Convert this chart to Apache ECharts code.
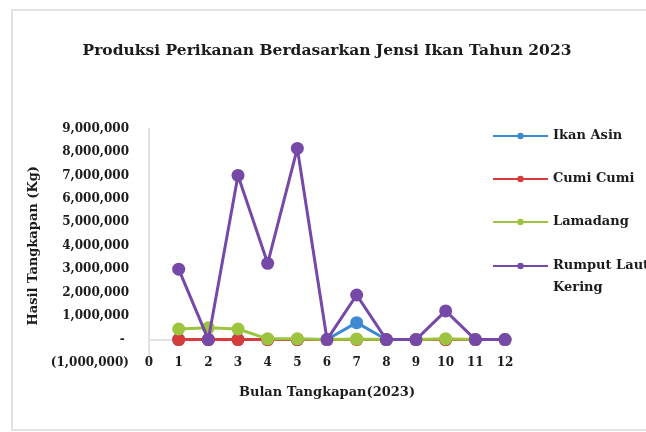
<!DOCTYPE html>
<html>
<head>
<meta charset="utf-8">
<script src="https://cdn.jsdelivr.net/npm/echarts@6/dist/echarts.min.js"></script>
<style>
  html, body { margin: 0; padding: 0; background: #fff; }
  #chart { width: 646px; height: 432px; }
</style>
</head>
<body>
<div id="chart"></div>
<script>
// data
var months = [1, 2, 3, 4, 5, 6, 7, 8, 9, 10, 11, 12];
var ikanAsin = [0, 0, 0, 0, 0, 0, 720000, 0, 0, 0, 0, 0];
var cumiCumi = [0, 0, 0, 0, 0, 0, 0, 0, 0, 0, 0, 0];
var lamadang = [450000, 500000, 450000, 30000, 30000, 0, 20000, 0, 0, 30000, 0, 0];
var rumputLaut = [3000000, 0, 7000000, 3250000, 8150000, 0, 1900000, 0, 0, 1220000, 0, 0];

var seriesNames = ["Ikan Asin", "Cumi Cumi", "Lamadang", "Rumput Laut Kering"];
var seriesValues = [ikanAsin, cumiCumi, lamadang, rumputLaut];
var colors = ["#3d8ad2", "#d63c3c", "#9dc43f", "#7648a8"];

var font = "DejaVu Serif";
var txt = "#1c1c1c";

var myChart = echarts.init(document.getElementById("chart"));

function fmt(v) {
  if (v === 0) return "- ";
  var s = Math.abs(v).toString().replace(/\B(?=(\d{3})+(?!\d))/g, ",");
  return v < 0 ? "(" + s + ")" : s;
}

var series = [];
for (var i = 0; i < seriesNames.length; i++) {
  var pts = [];
  for (var j = 0; j < months.length; j++) {
    pts.push([months[j], seriesValues[i][j]]);
  }
  var s = {
    name: seriesNames[i],
    type: "line",
    data: pts,
    symbol: "circle",
    symbolSize: 13,
    lineStyle: { width: 3, color: colors[i] },
    itemStyle: { color: colors[i] },
    z: 2 + i,
  };
  if (i === 0) {
    // zero line (Excel draws the horizontal axis here)
    s.markLine = {
      silent: true,
      symbol: "none",
      label: { show: false },
      lineStyle: { color: "#d9d9d9", width: 1.5, type: "solid" },
      data: [{ yAxis: 0 }],
      z: 1,
    };
  }
  series.push(s);
}

var legendText = { fontFamily: font, fontSize: 13, fontWeight: "bold", color: txt, lineHeight: 22 };

var option = {
  animation: false,
  color: colors,
  title: {
    text: "Produksi Perikanan Berdasarkan Jensi Ikan Tahun 2023",
    left: 322,
    textAlign: "center",
    top: 38,
    textStyle: { fontFamily: font, fontSize: 15.5, fontWeight: "bold", color: txt },
  },
  graphic: [
    {
      type: "rect",
      shape: { x: 12, y: 10, width: 700, height: 420 },
      style: { fill: "none", stroke: "#d9d9d9", lineWidth: 1.5 },
      silent: true,
    },
  ],
  legend: [
    {
      orient: "vertical",
      left: 487,
      top: 120,
      itemWidth: 55,
      itemHeight: 8,
      itemGap: 21,
      textStyle: legendText,
      data: ["Ikan Asin", "Cumi Cumi", "Lamadang"],
    },
    {
      // own legend so the icon sits on the first line, "Kering" below it
      orient: "vertical",
      left: 487,
      top: 228,
      itemWidth: 55,
      itemHeight: 8,
      textStyle: legendText,
      formatter: function () {
        return " \nRumput Laut\nKering";
      },
      data: ["Rumput Laut Kering"],
    },
  ],
  grid: { left: 149, right: 141, top: 128.5, bottom: 69 },
  xAxis: {
    type: "value",
    min: 0,
    max: 12,
    interval: 1,
    name: "Bulan Tangkapan(2023)",
    nameLocation: "middle",
    nameGap: 23,
    nameTextStyle: { fontFamily: font, fontSize: 13, fontWeight: "bold", color: txt },
    axisLine: { show: false },
    axisTick: { show: false },
    splitLine: { show: false },
    axisLabel: {
      fontFamily: font,
      fontSize: 12,
      fontWeight: "bold",
      color: txt,
      margin: 0,
      verticalAlign: "middle",
    },
  },
  yAxis: {
    type: "value",
    min: -1000000,
    max: 9000000,
    interval: 1000000,
    name: "Hasil Tangkapan (Kg)",
    nameLocation: "middle",
    nameGap: 108,
    nameTextStyle: { fontFamily: font, fontSize: 13, fontWeight: "bold", color: txt },
    axisLine: { show: true, lineStyle: { color: "#d9d9d9", width: 1.5 } },
    axisTick: { show: false },
    splitLine: { show: false },
    axisLabel: {
      fontFamily: font,
      fontSize: 12,
      fontWeight: "bold",
      color: txt,
      margin: 20,
      formatter: fmt,
    },
  },
  tooltip: { show: false },
  series: series,
};

myChart.setOption(option);
</script>
</body>
</html>
